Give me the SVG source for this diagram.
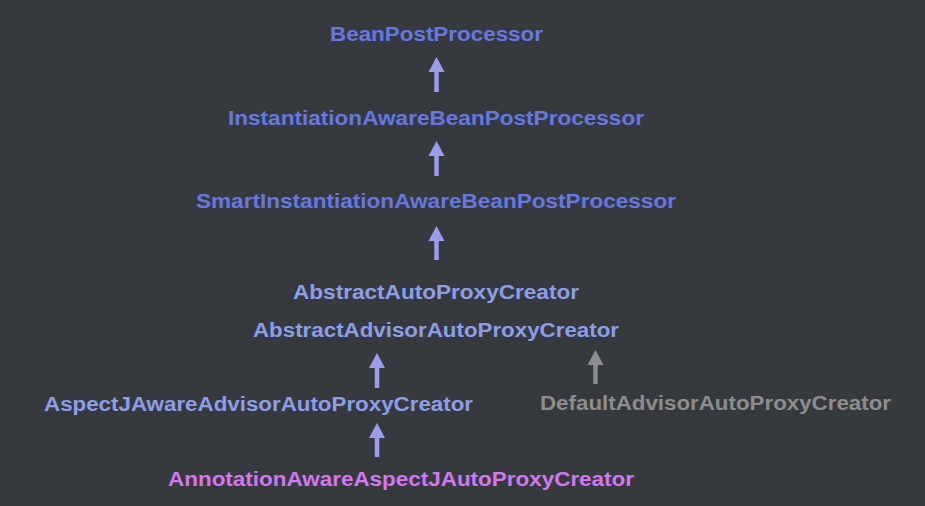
<svg xmlns="http://www.w3.org/2000/svg" width="925" height="506" viewBox="0 0 925 506">
<style>
.t{font-family:"Liberation Sans",Arial,sans-serif;font-weight:bold;font-size:20px;text-anchor:middle}
.b1{fill:#6678E0}
.b2{fill:#8C9EE8}
.m{fill:#D277EE}
.g{fill:#8D8D8D}
.c{stroke-width:4.5;fill:none}
.cb{stroke:#9A9DEA}
.cg{stroke:#8D8D8D}
</style>
<defs>
<marker id="ab" markerUnits="userSpaceOnUse" markerWidth="16" markerHeight="16" refX="8" refY="0" viewBox="0 0 16 16" orient="auto-start-reverse" overflow="visible">
<path d="M0,0 L16,0 L8,-15 Z" fill="#9A9DEA" transform="rotate(90 8 0)"/>
</marker>
<marker id="ag" markerUnits="userSpaceOnUse" markerWidth="16" markerHeight="16" refX="8" refY="0" viewBox="0 0 16 16" orient="auto-start-reverse" overflow="visible">
<path d="M0,0 L16,0 L8,-15 Z" fill="#8D8D8D" transform="rotate(90 8 0)"/>
</marker>
</defs>
<rect width="925" height="506" fill="#363A3F"/>
<g id="connectors">
<line class="c cb" x1="436.5" y1="92" x2="436.5" y2="72" marker-end="url(#ab)"/>
<line class="c cb" x1="436.5" y1="176" x2="436.5" y2="156" marker-end="url(#ab)"/>
<line class="c cb" x1="436.5" y1="260" x2="436.5" y2="241" marker-end="url(#ab)"/>
<line class="c cb" x1="377" y1="388" x2="377" y2="368" marker-end="url(#ab)"/>
<line class="c cg" x1="595.5" y1="384" x2="595.5" y2="365" marker-end="url(#ag)"/>
<line class="c cb" x1="377" y1="457" x2="377" y2="438" marker-end="url(#ab)"/>
</g>
<g id="n1"><text class="t b1" x="436.5" y="41" textLength="213" lengthAdjust="spacingAndGlyphs">BeanPostProcessor</text></g>
<g id="n2"><text class="t b1" x="436" y="125" textLength="416" lengthAdjust="spacingAndGlyphs">InstantiationAwareBeanPostProcessor</text></g>
<g id="n3"><text class="t b1" x="436" y="208" textLength="480" lengthAdjust="spacingAndGlyphs">SmartInstantiationAwareBeanPostProcessor</text></g>
<g id="n4"><text class="t b2" x="436" y="299" textLength="286" lengthAdjust="spacingAndGlyphs">AbstractAutoProxyCreator</text></g>
<g id="n5"><text class="t b2" x="436" y="337" textLength="366" lengthAdjust="spacingAndGlyphs">AbstractAdvisorAutoProxyCreator</text></g>
<g id="n6"><text class="t b2" x="258.5" y="411" textLength="429" lengthAdjust="spacingAndGlyphs">AspectJAwareAdvisorAutoProxyCreator</text></g>
<g id="n7"><text class="t g" x="715.5" y="410" textLength="351" lengthAdjust="spacingAndGlyphs">DefaultAdvisorAutoProxyCreator</text></g>
<g id="n8"><text class="t m" x="401" y="486" textLength="466" lengthAdjust="spacingAndGlyphs">AnnotationAwareAspectJAutoProxyCreator</text></g>
</svg>
